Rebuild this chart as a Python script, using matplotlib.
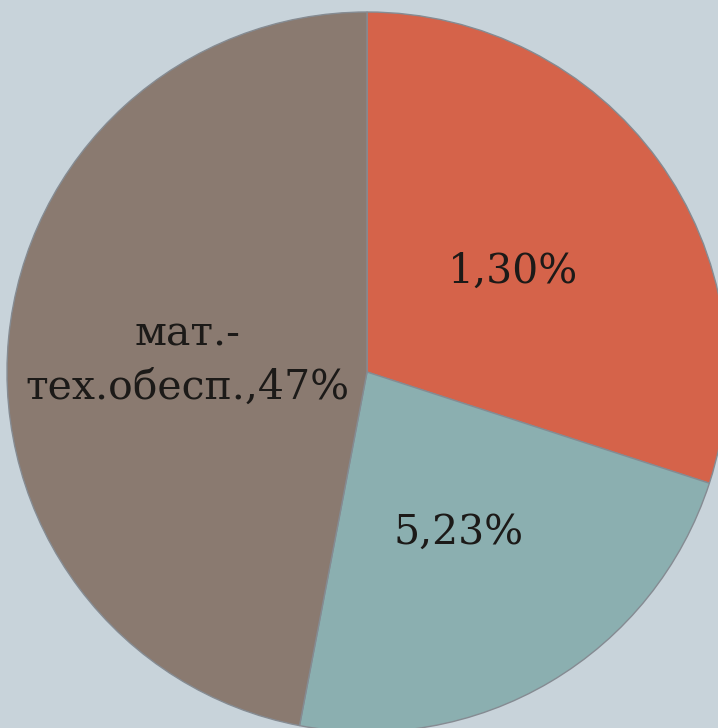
import matplotlib
matplotlib.use("Agg")
import matplotlib.pyplot as plt
import matplotlib.transforms as mtransforms

categories = ["1", "5", "мат.-\nтех.обесп."]
values = [30, 23, 47]
colors = ["#D5634A", "#8BAFB0", "#8A7A70"]
labels = [f"{c},{v}%" for c, v in zip(categories, values)]

W, H = 718, 728
fig = plt.figure(figsize=(W / 100, H / 100), dpi=100)
fig.patch.set_facecolor("#C8D3DA")
ax = fig.add_axes([0, 0, 1, 1])
ax.set_facecolor("#C8D3DA")

wedges, texts = ax.pie(
    values,
    labels=labels,
    colors=colors,
    startangle=90,
    counterclock=False,
    center=(367, H - 372),
    radius=360,
    labeldistance=0.5,
    wedgeprops=dict(edgecolor="#858b92", linewidth=1.0),
    textprops=dict(family="DejaVu Serif", fontsize=29.5, color="#1c1a18"),
    frame=False,
)
shift = mtransforms.ScaledTranslation(0, -6 / 100, fig.dpi_scale_trans)
for t in texts:
    t.set_ha("center")
    t.set_va("center")
    t.set_multialignment("center")
    t.set_linespacing(1.45)
    t.set_transform(t.get_transform() + shift)

ax.set_xlim(0, W)
ax.set_ylim(0, H)
ax.set_aspect("equal", adjustable="box")
ax.axis("off")
fig.savefig("out.png", dpi=100, facecolor=fig.get_facecolor())
